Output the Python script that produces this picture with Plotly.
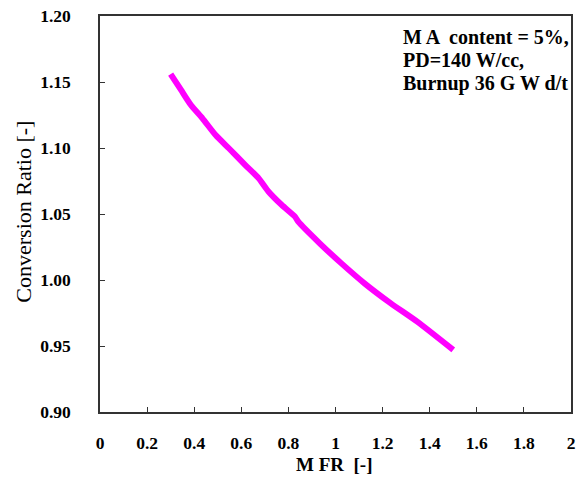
import plotly.graph_objects as go

# Conversion ratio vs. moderator-to-fuel ratio
mfr = [0.30, 0.344, 0.386, 0.435, 0.491, 0.547, 0.617, 0.674, 0.716, 0.772,
       0.828, 0.842, 0.933, 1.025, 1.123, 1.235, 1.347, 1.50]
conversion_ratio = [1.156, 1.144, 1.1326, 1.1225, 1.1098, 1.0998, 1.0871, 1.077,
                    1.0669, 1.0568, 1.048, 1.0442, 1.0278, 1.0126, 0.9975, 0.9823,
                    0.9684, 0.947]

x_ticks = [0, 0.2, 0.4, 0.6, 0.8, 1.0, 1.2, 1.4, 1.6, 1.8, 2.0]
x_tick_labels = ["0", "0.2", "0.4", "0.6", "0.8", "1", "1.2", "1.4", "1.6", "1.8", "2"]
y_ticks = [0.90, 0.95, 1.00, 1.05, 1.10, 1.15, 1.20]
y_tick_labels = ["0.90", "0.95", "1.00", "1.05", "1.10", "1.15", "1.20"]

note_lines = ["M A  content = 5%,", "PD=140 W/cc,", "Burnup 36 G W d/t"]

SERIF = "Liberation Serif, DejaVu Serif, serif"

# plot area in pixels: x 100..575, y 16..412
PX_L, PX_R, PX_T, PX_B = 100, 575, 16, 412


def px_x(px):
    return (px - PX_L) / (PX_R - PX_L)


def px_y(py):
    return (PX_B - py) / (PX_B - PX_T)


fig = go.Figure()
fig.add_trace(go.Scatter(
    x=mfr, y=conversion_ratio, mode="lines",
    line=dict(color="#FF00FF", width=6, shape="spline", smoothing=0.6),
    showlegend=False,
))

axis_common = dict(
    showline=True, linecolor="#333333", linewidth=1.5, mirror=True,
    ticks="inside", ticklen=5, tickcolor="#333333", tickwidth=1.2,
    showgrid=False, zeroline=False,
    tickfont=dict(family=SERIF, size=17.5, color="black", weight="bold"),
)

fig.update_xaxes(range=[0, 2], tickvals=x_ticks, ticktext=x_tick_labels,
                 ticklabelstandoff=14, **axis_common)
fig.update_yaxes(range=[0.9, 1.2], tickvals=y_ticks, ticktext=y_tick_labels,
                 ticklabelstandoff=24, **axis_common)

fig.add_annotation(
    text="Conversion Ratio [-]", xref="paper", yref="paper",
    x=px_x(22), y=px_y(212), xanchor="center", yanchor="middle",
    textangle=-90, showarrow=False,
    font=dict(family=SERIF, size=22, color="black"),
)
fig.add_annotation(
    text="M FR  [-]", xref="paper", yref="paper",
    x=px_x(336), y=px_y(464), xanchor="center", yanchor="middle",
    showarrow=False,
    font=dict(family=SERIF, size=19, color="black", weight="bold"),
)
for line, cy in zip(note_lines, [37, 60, 83]):
    fig.add_annotation(
        text=line, xref="paper", yref="paper",
        x=px_x(404), y=px_y(cy), xanchor="left", yanchor="middle",
        align="left", showarrow=False,
        font=dict(family=SERIF, size=20, color="black", weight="bold"),
    )

fig.update_layout(
    width=580, height=486,
    margin=dict(l=PX_L, r=580 - PX_R, t=PX_T, b=486 - PX_B),
    paper_bgcolor="white", plot_bgcolor="white",
)

fig.write_html("out.html")
